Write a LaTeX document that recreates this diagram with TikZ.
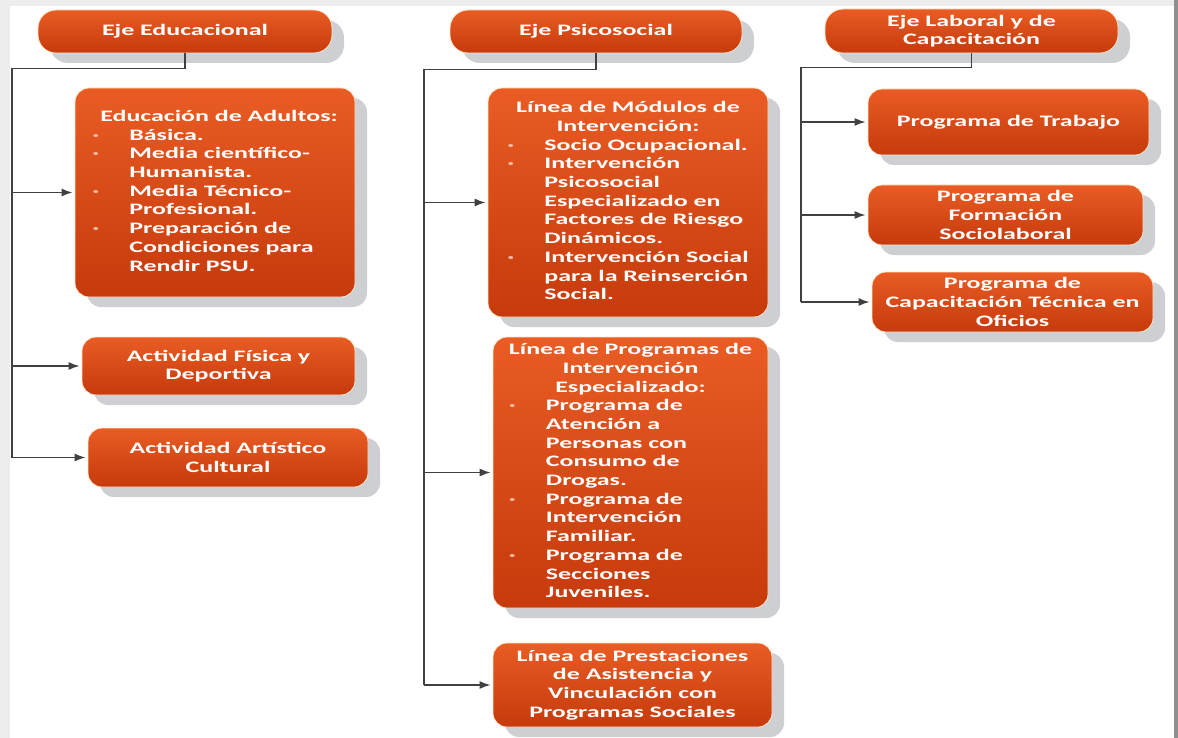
\documentclass[tikz,border=0pt]{standalone}
\usepackage{fontspec}
\setmainfont{Carlito}[FakeStretch=1.62]
\usetikzlibrary{arrows.meta, shadows, positioning}

\definecolor{boxtop}{RGB}{233,92,36}
\definecolor{boxbot}{RGB}{198,58,12}
\definecolor{rimc}{RGB}{250,232,205}
\definecolor{shadowc}{RGB}{205,207,211}
\definecolor{linec}{RGB}{64,64,64}
\definecolor{dotc}{RGB}{250,190,165}

\newcommand{\bl}{\makebox[37pt][l]{\color{dotc}\textperiodcentered}}

\begin{document}
\begin{tikzpicture}[x=1pt, y=-1pt, >={Latex[length=11pt, width=8pt]}, semithick,
  box/.style={rectangle, rounded corners=14pt, draw=rimc, line width=0.8pt, top color=boxtop, bottom color=boxbot, text=white, inner sep=0pt, font=\bfseries\fontsize{16}{18.7}\selectfont, drop shadow={shadow xshift=12pt, shadow yshift=-10pt, fill=shadowc, opacity=1}},
  head/.style={box, rounded corners=18pt, align=center},
  link/.style={draw=linec, line width=1.5pt},
  arr/.style={link, ->, shorten >=2pt}]

  % page
  \useasboundingbox (0,0) rectangle (1178,738);
  \fill[white] (0,0) rectangle (1178,738);
  \fill[black!7] (0,0) rectangle (1178,6);
  \fill[black!7] (0,0) rectangle (10,738);
  \fill[black!44] (1174,0) rectangle (1178,738);

  % the three axes
  \node[head, minimum width=294pt, minimum height=43pt] (eduHead) at (185,31.5) {Eje Educacional};
  \node[head, minimum width=292pt, minimum height=43pt] (psiHead) at (596,31.5) {Eje Psicosocial};
  \node[head, minimum width=293pt, minimum height=44pt] (labHead) at (971.5,31) {Eje Laboral y de\\Capacitaci\'on};

  % eje educacional
  \node[box, minimum width=280pt, minimum height=209pt] (adultos) at (215,192.5) {%
    \begin{tabular}{@{}l@{}l@{}}
      \multicolumn{2}{@{}l@{}}{\hspace{8pt}Educación de Adultos:}\\
      \bl & Básica.\\
      \bl & Media científico-\\
          & Humanista.\\
      \bl & Media Técnico-\\
          & Profesional.\\
      \bl & Preparación de\\
          & Condiciones para\\
          & Rendir PSU.
    \end{tabular}};
  \node[box, align=center, minimum width=273pt, minimum height=58pt] (fisica) at (218.5,366) {Actividad Física y\\Deportiva};
  \node[box, align=center, minimum width=280pt, minimum height=59pt] (artistico) at (228,457.5) {Actividad Artístico\\Cultural};

  % eje psicosocial
  \node[box, minimum width=280pt, minimum height=229pt] (modulos) at (628,202.5) {%
    \begin{tabular}{@{}l@{}l@{}}
      \multicolumn{2}{@{}c@{}}{Línea de Módulos de}\\
      \multicolumn{2}{@{}c@{}}{Intervención:}\\
      \bl & Socio Ocupacional.\\
      \bl & Intervención\\
          & Psicosocial\\
          & Especializado en\\
          & Factores de Riesgo\\
          & Dinámicos.\\
      \bl & Intervención Social\\
          & para la Reinserción\\
          & Social.
    \end{tabular}};
  \node[box, minimum width=275pt, minimum height=271pt] (programas) at (630.5,472.5) {%
    \begin{tabular}{@{}l@{}l@{}}
      \multicolumn{2}{@{}c@{}}{Línea de Programas de}\\
      \multicolumn{2}{@{}c@{}}{Intervención}\\
      \multicolumn{2}{@{}c@{}}{Especializado:}\\
      \bl & Programa de\\
          & Atención a\\
          & Personas con\\
          & Consumo de\\
          & Drogas.\\
      \bl & Programa de\\
          & Intervención\\
          & Familiar.\\
      \bl & Programa de\\
          & Secciones\\
          & Juveniles.
    \end{tabular}};
  \node[box, align=center, minimum width=279pt, minimum height=84pt] (prestaciones) at (632.5,685) {Línea de Prestaciones\\de Asistencia y\\Vinculación con\\Programas Sociales};

  % eje laboral
  \node[box, align=center, minimum width=281pt, minimum height=66pt] (trabajo) at (1008.5,122) {Programa de Trabajo};
  \node[box, align=center, minimum width=275pt, minimum height=60pt] (formacion) at (1005.5,215) {Programa de\\Formación\\Sociolaboral};
  \node[box, align=center, minimum width=281pt, minimum height=60pt] (capacitacion) at (1012.5,302) {Programa de\\Capacitación Técnica en\\Oficios};

  % connectors
  \coordinate (eduEnd) at (12,457.5);
  \coordinate (psiEnd) at (424,685);
  \coordinate (labEnd) at (801,302);

  \draw[link] (eduHead.south) -- ++(0,15) -| (eduEnd);
  \draw[arr] (eduEnd |- adultos) -- (adultos);
  \draw[arr] (eduEnd |- fisica) -- (fisica);
  \draw[arr] (eduEnd) -- (artistico);

  \draw[link] (psiHead.south) -- ++(0,16) -| (psiEnd);
  \draw[arr] (psiEnd |- modulos) -- (modulos);
  \draw[arr] (psiEnd |- programas) -- (programas);
  \draw[arr] (psiEnd) -- (prestaciones);

  \draw[link] (labHead.south) -- ++(0,14) -| (labEnd);
  \draw[arr] (labEnd |- trabajo) -- (trabajo);
  \draw[arr] (labEnd |- formacion) -- (formacion);
  \draw[arr] (labEnd) -- (capacitacion);
\end{tikzpicture}
\end{document}
